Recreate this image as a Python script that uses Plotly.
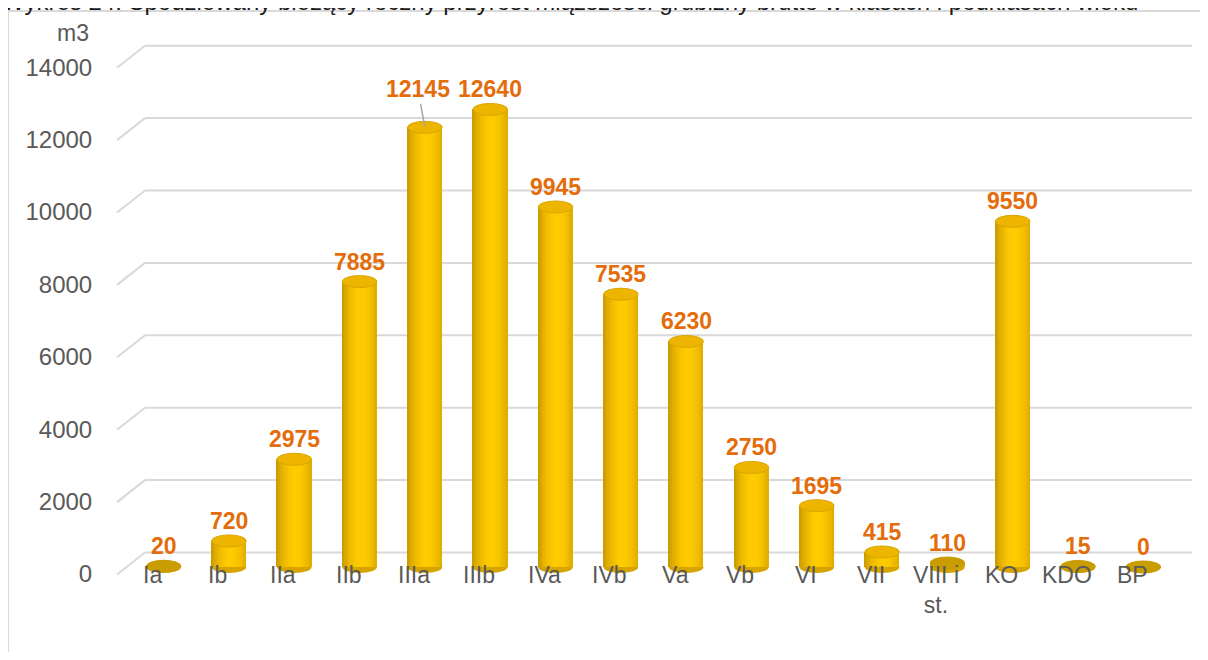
import plotly.graph_objects as go
import math

# ---------------- data ----------------
categories = ["Ia", "Ib", "IIa", "IIb", "IIIa", "IIIb", "IVa", "IVb", "Va", "Vb",
              "VI", "VII", "VIII i<br>st.", "KO", "KDO", "BP"]
values = [20, 720, 2975, 7885, 12145, 12640, 9945, 7535, 6230, 2750,
          1695, 415, 110, 9550, 15, 0]
y_ticks = [0, 2000, 4000, 6000, 8000, 10000, 12000, 14000]
y_unit = "m3"
title_text = ("Wykres 24. Spodziewany bieżący roczny przyrost miąższości grubizny "
              "brutto w klasach i podklasach wieku")

# ---------------- geometry / style ----------------
OFF = 8                      # page body margin
W, H = 1200, 644
L, R, T, B = 123, 32, 12, 12
PW, PH = W - L - R, H - T - B
Y0_SP = 567                  # screen row of value 0 (bar base)
K = 0.0362                   # px per unit
y_top = (Y0_SP - (T + OFF)) / K
y_bot = -((H - B + OFF) - Y0_SP) / K
FONT = "Liberation Sans, Arial, sans-serif"
GREY = "#595959"
ORANGE = "#E46C0A"
GRID = "#D9D9D9"


def pxx(sp):  # screen x -> paper
    return (sp - OFF - L) / PW


def pxy(sp):  # screen y -> paper
    return (H - B - (sp - OFF)) / PH


def u(px):  # pixel length -> value units
    return px / K


xs = list(range(len(categories)))
BW = 0.53
NSTRIP = 18

fig = go.Figure()

# cylinder body built from thin vertical strips with a shading profile
dark = (178, 132, 0)
bright = (255, 203, 0)
for k in range(NSTRIP):
    s = (k + 0.5) / NSTRIP
    d = (s - 0.56) / 0.62
    f = max(0.0, math.cos(d * math.pi / 2)) ** 0.7
    c = tuple(int(dark[j] + (bright[j] - dark[j]) * f) for j in range(3))
    fig.add_trace(go.Bar(
        x=xs, y=values,
        width=[BW / NSTRIP] * len(xs),
        offset=-BW / 2 + k * BW / NSTRIP,
        marker=dict(color="rgb(%d,%d,%d)" % c, line=dict(width=0)),
        hoverinfo="skip", showlegend=False,
    ))

shapes = []
# frame
shapes.append(dict(type="line", xref="paper", yref="paper",
                   x0=pxx(8), x1=pxx(1215), y0=pxy(11), y1=pxy(11),
                   line=dict(color=GRID, width=2)))
shapes.append(dict(type="line", xref="paper", yref="paper",
                   x0=pxx(8), x1=pxx(8), y0=pxy(11), y1=pxy(664),
                   line=dict(color=GRID, width=2)))

# back-wall gridlines with perspective corner at the left
BACK = u(14.5)
FRONT = -u(7.5)
for t in y_ticks:
    shapes.append(dict(type="line", xref="paper", yref="y", layer="below",
                       x0=pxx(145), x1=pxx(1192), y0=t + BACK, y1=t + BACK,
                       line=dict(color=GRID, width=2)))
    shapes.append(dict(type="line", xref="paper", yref="y", layer="below",
                       x0=pxx(117), x1=pxx(145), y0=t + FRONT, y1=t + BACK,
                       line=dict(color=GRID, width=2)))

HH = u(6)
for i, v in zip(xs, values):
    # rounded base
    shapes.append(dict(type="circle", xref="x", yref="y", layer="below",
                       x0=i - BW / 2, x1=i + BW / 2, y0=-HH, y1=HH,
                       fillcolor="#D6A300", line=dict(width=0)))
    # top face
    small = v < 300
    shapes.append(dict(type="circle", xref="x", yref="y",
                       x0=i - BW / 2, x1=i + BW / 2, y0=v - HH, y1=v + HH,
                       fillcolor="#C99D00" if small else "#EDB500",
                       line=dict(color="#C99B00" if small else "#D9A500", width=1)))

annotations = []
# data labels
for i, v in zip(xs, values):
    if i == 4:  # label lifted with a leader line (as in the source chart)
        annotations.append(dict(x=i, y=v, xref="x", yref="y", text="<b>%d</b>" % v,
                                showarrow=True, ax=-7, ay=-38, arrowhead=0,
                                arrowwidth=1.5, arrowcolor="#A6A6A6", standoff=1,
                                font=dict(family=FONT, size=23, color=ORANGE)))
    else:
        annotations.append(dict(x=i, y=v, xref="x", yref="y", text="<b>%d</b>" % v,
                                showarrow=False, yanchor="bottom", yshift=5,
                                font=dict(family=FONT, size=23, color=ORANGE)))

# category labels
for i, c in zip(xs, categories):
    annotations.append(dict(x=i, y=pxy(560), xref="x", yref="paper", text=c,
                            showarrow=False, yanchor="top", xanchor="center",
                            xshift=-11,
                            font=dict(family=FONT, size=23, color=GREY)))

# unit label
annotations.append(dict(x=pxx(73), y=pxy(33), xref="paper", yref="paper",
                        text=y_unit, showarrow=False, xanchor="center",
                        yanchor="middle",
                        font=dict(family=FONT, size=23, color=GREY)))
# title (cut off at the top edge, as in the source image)
annotations.append(dict(x=pxx(0), y=pxy(2), xref="paper", yref="paper",
                        text=title_text, showarrow=False, xanchor="left",
                        yanchor="middle",
                        font=dict(family=FONT, size=24, color="#1A1A1A")))

LBL = u(7)
fig.update_layout(
    width=W, height=H,
    margin=dict(l=L, r=R, t=T, b=B, autoexpand=False),
    paper_bgcolor="white", plot_bgcolor="rgba(0,0,0,0)",
    barmode="overlay", bargap=0,
    showlegend=False,
    xaxis=dict(range=[-0.5, len(categories) - 0.5], showgrid=False,
               zeroline=False, showticklabels=False, showline=False,
               fixedrange=True),
    yaxis=dict(range=[y_bot, y_top], showgrid=False, zeroline=False,
               showticklabels=False, showline=False, fixedrange=True),
    yaxis2=dict(range=[y_bot + LBL, y_top + LBL], overlaying="y", side="left",
                showgrid=False, zeroline=False, showline=False,
                tickvals=y_ticks, ticktext=[str(t) for t in y_ticks],
                ticks="outside", ticklen=33, tickcolor="rgba(0,0,0,0)",
                tickfont=dict(family=FONT, size=24, color=GREY),
                fixedrange=True),
    shapes=shapes,
    annotations=annotations,
)
# invisible trace to activate the label axis
fig.add_trace(go.Scatter(x=[0], y=[0], yaxis="y2", mode="markers",
                         marker=dict(opacity=0), hoverinfo="skip",
                         showlegend=False))

fig.write_html("out.html")
